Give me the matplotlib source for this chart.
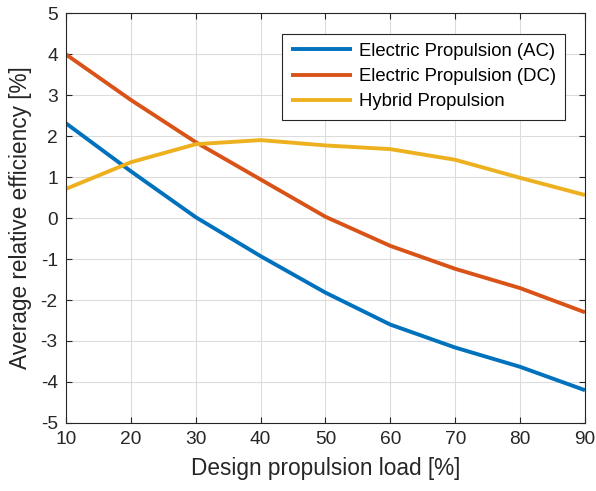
import matplotlib
matplotlib.use('agg')
import matplotlib.pyplot as plt

plt.rcParams['font.family'] = ['Liberation Sans', 'DejaVu Sans']

# data
load = [10, 20, 30, 40, 50, 60, 70, 80, 90]
ac = [2.31, 1.14, 0.02, -0.93, -1.82, -2.6, -3.16, -3.63, -4.2]
dc = [3.99, 2.88, 1.85, 0.94, 0.03, -0.68, -1.24, -1.71, -2.3]
hybrid = [0.71, 1.36, 1.80, 1.90, 1.77, 1.68, 1.42, 0.98, 0.56]
labels = ['Electric Propulsion (AC)', 'Electric Propulsion (DC)', 'Hybrid Propulsion']
colors = ['#0072BD', '#D95319', '#EDB120']

fig = plt.figure(figsize=(5.96, 4.91), dpi=100)
ax = fig.add_axes([0.1107, 0.1385, 0.8708, 0.835])

for ys, lab, c in zip([ac, dc, hybrid], labels, colors):
    ax.plot(load, ys, color=c, lw=2.8, label=lab, solid_capstyle='butt')

ax.set_xlim(10, 90)
ax.set_ylim(-5, 5)
ax.set_xticks(range(10, 91, 10))
ax.set_yticks(range(-5, 6))
ax.set_yticklabels([str(v) for v in range(-5, 6)])
ax.grid(True, color='#dcdcdc', lw=0.8)
ax.set_axisbelow(True)
ax.tick_params(direction='in', length=4, labelsize=13.8, colors='#262626',
               top=True, right=True, pad=6)
for s in ax.spines.values():
    s.set_color('#262626')
    s.set_linewidth(0.8)

ax.set_xlabel('Design propulsion load [%]', fontsize=16.3, color='#262626', labelpad=6)
ax.set_ylabel('Average relative efficiency [%]', fontsize=16.3, color='#262626', labelpad=6)

leg = ax.legend(loc='upper right', bbox_to_anchor=(0.962, 0.95), fontsize=13.3,
                fancybox=False, framealpha=1, edgecolor='#262626',
                handlelength=3.3, handletextpad=0.35, borderpad=0.5,
                labelspacing=0.45, borderaxespad=0)
leg.get_frame().set_linewidth(0.8)

fig.savefig('out.png', dpi=100)
plt.close(fig)
